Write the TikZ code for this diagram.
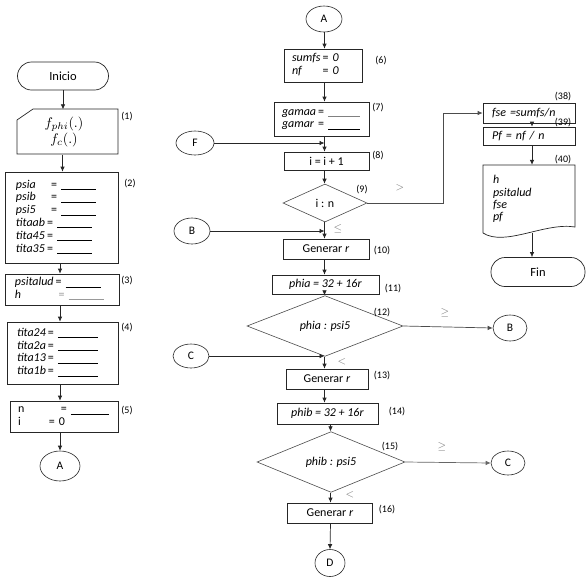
\documentclass[tikz,border=0pt]{standalone}
\usepackage{fontspec}
\usepackage{graphicx}
\setmainfont{Carlito}
\usetikzlibrary{arrows.meta,shapes.geometric,calc}
\newcommand{\blk}[1][35pt]{\rule[-1.5pt]{#1}{0.5pt}}
\begin{document}
\begin{tikzpicture}[x=1pt,y=-1pt,
 box/.style={draw=black!85, line width=0.7pt, rectangle, inner sep=0pt},
 term/.style={box, rounded corners=14pt},
 conn/.style={ellipse, draw=black!85, line width=0.6pt, inner sep=0pt, font=\fontsize{11.5}{13}\selectfont},
 dec/.style={diamond, draw=black!70, line width=0.6pt, inner sep=0pt},
 arr/.style={-{Latex[length=5pt,width=4.5pt]}, line width=0.7pt, draw=black!85},
 ln/.style={line width=0.7pt, draw=black!85},
 lbl/.style={font=\fontsize{10}{11}\selectfont, inner sep=0pt},
 rel/.style={text=black!55, inner sep=0pt, font=\fontsize{11}{12}\selectfont},
 txt/.style={font=\fontsize{12}{12.8}\selectfont}]
\useasboundingbox (0,0) rectangle (587,582);
\fill[white] (0,0) rectangle (587,582);
% column coordinates
\coordinate (cl1) at (62.5,0);
\coordinate (cl) at (60,0);
\coordinate (mc) at (324.5,0);
\coordinate (mc2) at (330.5,0);
\coordinate (rc) at (532,0);
\coordinate (kx) at (443,0);

% ---------------- left column
\node[term, minimum width=91, minimum height=28, font=\fontsize{12.5}{14}\selectfont] (ini) at (63,76) {Inicio};
\node[inner sep=0pt, minimum width=101, minimum height=45, align=center] (in1) at (64,132)
 {\scalebox{1.4}{$f_{phi}(.)$}\\[0pt] \scalebox{1.4}{$f_{c}(.)$}};
\draw[ln] (17,154) -- (17,120) -- (33,109) -- (118,109) -- (118,154) -- cycle;
\node[lbl] (l1) at (127,117) {(1)};

\node[box, txt, minimum width=113, minimum height=91, text width=91, align=left] (b2) at (61.5,217.5)
 {\begin{tabular}{@{}l@{\,}l@{}}
 \textit{psia} & \hspace{4pt}= \blk\\
 \textit{psib} & \hspace{4pt}= \blk\\
 \textit{psi5} & \hspace{4pt}= \blk\\
 \textit{titaab} & = \blk\\
 \textit{tita45} & = \blk\\
 \textit{tita35} & = \blk
 \end{tabular}};
\node[lbl] (l2) at (130,184) {(2)};

\node[box, txt, minimum width=114, minimum height=31, text width=94, align=left] (b3) at (62,289.5)
 {\begin{tabular}{@{}l@{\,}l@{}}
 \textit{psitalud} & = \blk\\
 \textit{h} & \hspace{3pt}{\color{black!40}= \blk}
 \end{tabular}};
\node[lbl] (l3) at (127,281) {(3)};

\node[box, txt, minimum width=111, minimum height=62, text width=91, align=left] (b4) at (62.5,353)
 {\begin{tabular}{@{}l@{\,}l@{}}
 \textit{tita24} & = \blk[40pt]\\
 \textit{tita2a} & = \blk[40pt]\\
 \textit{tita13} & = \blk[40pt]\\
 \textit{tita1b} & = \blk[40pt]
 \end{tabular}};
\node[lbl] (l4) at (127,328) {(4)};

\node[box, txt, minimum width=108, minimum height=31, text width=92, align=left] (b5) at (64,416.5)
 {\makebox[43pt][l]{n}= \blk[38pt]\\
  \makebox[31pt][l]{i}= 0};
\node[lbl] (l5) at (127,411) {(5)};

\node[conn, minimum width=40, minimum height=30] (A1) at (60,466) {A};

\draw[arr] (ini.south) -- (ini.south |- in1.north);
\draw[arr] (in1.south -| cl1) -- (b2.north -| cl1);
\draw[arr] (b2.south -| cl) -- (b3.north -| cl);
\draw[arr] (b3.south -| cl) -- (b4.north -| cl);
\draw[arr] (b4.south -| cl) -- (b5.north -| cl);
\draw[arr] (b5.south -| cl) -- (A1.north);

% ---------------- middle column
\node[conn, minimum width=36, minimum height=26] (A2) at (324,19) {A};

\node[box, txt, minimum width=78, minimum height=33, text width=62, align=left] (b6) at (323,65.5)
 {\begin{tabular}{@{}l@{\,}l@{}}
 \textit{sumfs} & = \textit{0}\\
 \textit{nf} & = \textit{0}
 \end{tabular}};
\node[lbl] (l6) at (381,61) {(6)};

\node[box, txt, minimum width=95, minimum height=34, text width=79, align=left] (b7) at (321.5,119)
 {\begin{tabular}{@{}l@{\,}l@{}}
 \textit{gamaa} & = {\color{black!50}\blk[32pt]}\\
 \textit{gamar} & = \blk[32pt]
 \end{tabular}};
\node[lbl] (l7) at (378,108) {(7)};

\node[conn, minimum width=38, minimum height=24] (F) at (195,143) {F};

\node[box, txt, minimum width=85, minimum height=18] (b8) at (326.5,161) {i = i + 1};
\node[lbl] (l8) at (378,156) {(8)};

\node[dec, txt, minimum width=84, minimum height=38] (d9) at (325,203) {i : n};
\node[lbl] (l9) at (362,190) {(9)};
\node[rel] (r9) at (400,188) {$>$};
\node[rel] (r9b) at (338,229) {$\leq$};

\node[conn, minimum width=36, minimum height=26] (B1) at (192,231) {B};

\node[box, txt, minimum width=86, minimum height=20] (b10) at (326,249) {Generar \textit{r}};
\node[lbl] (l10) at (382,251) {(10)};

\node[box, txt, minimum width=107, minimum height=19] (b11) at (325.5,284.5) {\textit{phia = 32 + 16r}};
\node[lbl] (l11) at (393,289) {(11)};

\node[dec, txt, minimum width=156, minimum height=40] (d12) at (325,326) {\textit{phia : psi5}};
\node[lbl] (l12) at (382,313) {(12)};
\node[rel] (r12) at (445,313) {$\geq$};

\node[conn, minimum width=34, minimum height=26] (B2) at (510,328) {B};

\node[conn, minimum width=36, minimum height=24] (C1) at (191,356) {C};
\node[rel] (r12b) at (342,362) {$<$};

\node[box, txt, minimum width=82, minimum height=20] (b13) at (327,379) {Generar \textit{r}};
\node[lbl] (l13) at (382,376) {(13)};

\node[box, txt, minimum width=101, minimum height=21] (b14) at (327.5,413.5) {\textit{phib = 32 + 16r}};
\node[lbl] (l14) at (397,412) {(14)};

\node[dec, txt, minimum width=148, minimum height=44] (d15) at (331,462) {\textit{phib : psi5}};
\node[lbl] (l15) at (390,447) {(15)};
\node[rel] (r15) at (442,447) {$\geq$};
\node[rel] (r15b) at (350,495) {$<$};

\node[conn, minimum width=34, minimum height=24] (C2) at (508,463) {C};

\node[box, txt, minimum width=85, minimum height=20] (b16) at (330,513) {Generar \textit{r}};
\node[lbl] (l16) at (387,510) {(16)};

\node[conn, minimum width=30, minimum height=27] (D) at (330,563) {D};

\draw[arr] (A2.south -| mc) -- (b6.north -| mc);
\draw[arr] (b6.south -| mc) -- (b7.north -| mc);
\draw[arr] (b7.south -| mc) -- (b8.north -| mc);
\draw[arr] (F.east) -- (F.east -| mc);
\draw[arr] (b8.south -| mc) -- (d9.north -| mc);
\draw[arr] (d9.south -| mc) -- (b10.north -| mc);
\draw[arr] (B1.east) -- (B1.east -| mc);
\draw[arr] (b10.south -| mc) -- (b11.north -| mc);
\draw[arr] (b11.south -| mc) -- (d12.north -| mc);
\draw[arr] (d12.south -| mc) -- (b13.north -| mc);
\draw[arr] (C1.east) -- (C1.east -| mc);
\draw[arr] (b13.south -| mc) -- (b14.north -| mc);
\draw[arr] (b14.south -| mc2) -- (d15.north -| mc2);
\draw[arr] (d15.south -| mc2) -- (b16.north -| mc2);
\draw[arr] (b16.south -| mc2) -- (D.north);
\draw[arr, draw=black!70] (d12.east) -- (B2.west);
\draw[arr, draw=black!60] (d15.east) -- (C2.west);

% ---------------- right column
\node[box, txt, minimum width=92, minimum height=20, text width=74, align=left] (b38) at (529,113) {\textit{fse =sumfs/n}};
\node[lbl] (l38) at (563,97) {(38)};
\node[box, txt, minimum width=92, minimum height=18, text width=74, align=left] (b39) at (529,136) {\textit{Pf = nf / n}};
\node[lbl] (l39) at (563,123) {(39)};

\node[inner sep=0pt, minimum width=92, minimum height=68, text width=72, align=left, txt, font=\fontsize{12}{12.3}\selectfont] (d40) at (529,199)
 {\textit{h}\\ \textit{psitalud}\\ \textit{fse}\\ \textit{pf}\\[8pt]};
\draw[ln] (483,233) -- (483,165) -- (575,165) -- (575,227) .. controls (545,222) and (505,247) .. (483,233);
\coordinate (wv) at (532,233);
\node[lbl] (l40) at (563,160) {(40)};

\node[term, minimum width=94, minimum height=29, font=\fontsize{12.5}{14}\selectfont] (fin) at (538,272) {Fin};

\draw[arr, draw=black!70] (d9.east) -- (d9.east -| kx) |- (b38.west);
\draw[arr] (b38.south -| rc) -- (b39.north -| rc);
\draw[arr] (b39.south -| rc) -- (rc |- d40.north);
\draw[arr] (wv) -- (wv |- fin.north);
\end{tikzpicture}
\end{document}
